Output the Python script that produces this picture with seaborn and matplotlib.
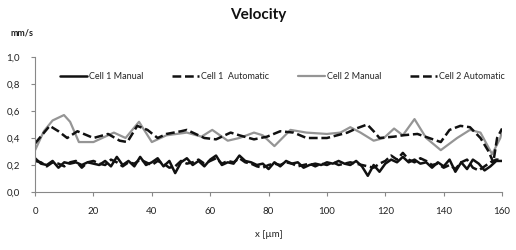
import numpy as np
import pandas as pd
import matplotlib
matplotlib.use("Agg")
import matplotlib.pyplot as plt
import seaborn as sns

# cell 1, sampled every 2 um
x_cell1 = list(range(0, 162, 2))
cell1_manual = [0.25, 0.21, 0.20, 0.23, 0.18, 0.22, 0.21, 0.22, 0.20, 0.22,
                0.21, 0.20, 0.23, 0.19, 0.26, 0.20, 0.23, 0.19, 0.26, 0.20,
                0.22, 0.25, 0.19, 0.23, 0.14, 0.22, 0.25, 0.20, 0.23, 0.19,
                0.24, 0.27, 0.20, 0.22, 0.21, 0.27, 0.23, 0.22, 0.20, 0.21,
                0.17, 0.22, 0.19, 0.23, 0.21, 0.22, 0.18, 0.20, 0.21, 0.20,
                0.22, 0.21, 0.23, 0.21, 0.20, 0.23, 0.19, 0.12, 0.20, 0.15,
                0.21, 0.24, 0.22, 0.26, 0.22, 0.24, 0.21, 0.22, 0.18, 0.22,
                0.19, 0.24, 0.15, 0.22, 0.17, 0.24, 0.21, 0.16, 0.19, 0.23,
                0.23]
cell1_auto = [0.23, 0.22, 0.19, 0.22, 0.21, 0.19, 0.22, 0.23, 0.18, 0.22,
              0.23, 0.21, 0.20, 0.24, 0.22, 0.19, 0.22, 0.21, 0.24, 0.22,
              0.20, 0.23, 0.21, 0.18, 0.19, 0.23, 0.21, 0.22, 0.24, 0.21,
              0.23, 0.25, 0.21, 0.23, 0.22, 0.25, 0.22, 0.21, 0.19, 0.18,
              0.20, 0.21, 0.20, 0.22, 0.21, 0.19, 0.20, 0.21, 0.19, 0.21,
              0.20, 0.22, 0.20, 0.21, 0.22, 0.21, 0.20, 0.19, 0.18, 0.21,
              0.23, 0.27, 0.24, 0.29, 0.24, 0.22, 0.25, 0.23, 0.20, 0.21,
              0.18, 0.20, 0.17, 0.22, 0.24, 0.18, 0.16, 0.19, 0.22, 0.24,
              0.24]

# cell 2
x_c2_manual = [0, 3, 6, 9.9, 12, 15, 20, 24, 27, 31, 35.6, 40, 45, 52, 57,
               60.7, 66, 70, 75, 78, 82, 87.5, 93, 100, 104.6, 108, 111.5,
               116, 119.5, 123, 126, 130, 134, 139, 144.6, 149, 152.6, 156.6,
               159.4, 160]
cell2_manual = [0.31, 0.45, 0.53, 0.57, 0.52, 0.37, 0.37, 0.41, 0.44, 0.40,
                0.52, 0.37, 0.42, 0.44, 0.41, 0.46, 0.38, 0.40, 0.44, 0.42,
                0.34, 0.46, 0.44, 0.43, 0.44, 0.48, 0.44, 0.38, 0.40, 0.47,
                0.42, 0.54, 0.40, 0.31, 0.40, 0.46, 0.44, 0.28, 0.40, 0.46]
x_c2_auto = [0, 5, 8, 11, 14.5, 20, 25, 29, 31.6, 35, 38.5, 42, 45, 50, 52,
             58, 62, 67, 70, 75, 79.5, 84, 88.6, 93, 100, 103.5, 107, 110,
             113.8, 116, 118, 123, 126, 131, 135, 139, 142, 145.7, 149, 152.6,
             155.4, 157, 158.3, 160]
cell2_auto = [0.36, 0.49, 0.45, 0.40, 0.45, 0.40, 0.43, 0.38, 0.37, 0.49,
              0.46, 0.40, 0.43, 0.45, 0.46, 0.40, 0.39, 0.44, 0.42, 0.39,
              0.41, 0.45, 0.44, 0.40, 0.40, 0.42, 0.44, 0.47, 0.50, 0.45,
              0.40, 0.41, 0.42, 0.43, 0.40, 0.37, 0.46, 0.49, 0.48, 0.40,
              0.30, 0.22, 0.40, 0.47]

sns.set_style("ticks")
plt.rcParams["font.family"] = ["Lato", "DejaVu Sans"]

fig = plt.figure(figsize=(5.16, 2.5), dpi=100)
ax = fig.add_axes([0.068, 0.232, 0.905, 0.54])

dash = (0, (3.5, 1.5))
sns.lineplot(x=x_cell1, y=cell1_manual, ax=ax, color="#111111", lw=1.8,
             label="Cell 1 Manual")
sns.lineplot(x=x_cell1, y=cell1_auto, ax=ax, color="#111111", lw=1.8,
             linestyle=dash, label="Cell 1  Automatic")
sns.lineplot(x=x_c2_manual, y=cell2_manual, ax=ax, color="#959595", lw=1.6,
             label="Cell 2 Manual")
sns.lineplot(x=x_c2_auto, y=cell2_auto, ax=ax, color="#111111", lw=1.8,
             linestyle=dash, label="Cell 2 Automatic")

ax.set_xlim(0, 160)
ax.set_ylim(0, 1.0)
ax.set_xticks(range(0, 161, 20))
yt = [0.0, 0.2, 0.4, 0.6, 0.8, 1.0]
ax.set_yticks(yt)
ax.set_yticklabels([f"{v:.1f}".replace(".", ",") for v in yt])
ax.tick_params(labelsize=7, length=3, color="#888888", labelcolor="#222222",
               pad=8)
for s in ["left", "bottom"]:
    ax.spines[s].set_color("#888888")
sns.despine(ax=ax)

ax.set_xlabel("x [µm]", fontsize=7, labelpad=10, color="#222222")
ax.set_ylabel("")
fig.text(0.5, 0.94, "Velocity", ha="center", va="center", fontsize=11,
         fontweight="bold", color="#111111")
fig.text(0.02, 0.87, "mm/s", ha="left", va="center", fontsize=6.5,
         fontweight="bold", color="#222222")

ax.legend(loc="upper center", bbox_to_anchor=(0.53, 0.95), ncol=4,
          frameon=False, fontsize=6.5, handlelength=3.0, handletextpad=0.2,
          columnspacing=3.2)

fig.savefig("out.png", dpi=100)
